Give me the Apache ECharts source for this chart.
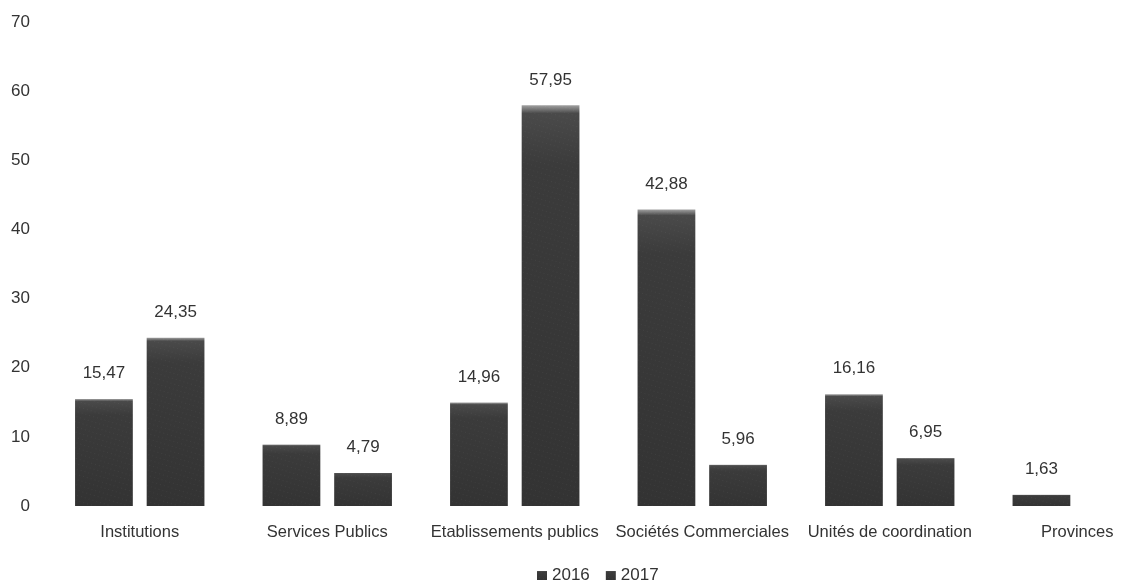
<!DOCTYPE html>
<html>
<head>
<meta charset="utf-8">
<script src="https://cdn.jsdelivr.net/npm/echarts@6/dist/echarts.min.js"></script>
<style>
    html, body {margin: 0; padding: 0; background: #fff;}
    #chart {width: 1121px; height: 585px;}
</style>
</head>
<body>
<div id="chart"></div>
<script>
var categories = ['Institutions', 'Services Publics', 'Etablissements publics', 'Sociétés Commerciales', 'Unités de coordination', 'Provinces'];
var values2016 = [15.47, 8.89, 14.96, 42.88, 16.16, 1.63];
var values2017 = [24.35, 4.79, 57.95, 5.96, 6.95, '-'];
var yTicks = [0, 10, 20, 30, 40, 50, 60, 70];

var myChart = echarts.init(document.getElementById('chart'));

// barres gris foncé avec un reflet clair en haut
function barColor() {
    return new echarts.graphic.LinearGradient(0, 0, 0, 1, [
        {offset: 0, color: '#a0a0a0'},
        {offset: 0.02, color: '#4a4a4a'},
        {offset: 0.15, color: '#3b3b3b'},
        {offset: 1, color: '#333333'}
    ]);
}

function fmt(p) {
    return p.value.toFixed(2).replace('.', ',');
}

var barDecal = {
    symbol: 'rect',
    symbolSize: 0.6,
    color: 'rgba(255,255,255,0.15)',
    dashArrayX: [1, 3],
    dashArrayY: [1, 4],
    rotation: 0.3
};

var option = {
    backgroundColor: '#ffffff',
    textStyle: {fontFamily: 'Liberation Sans, Arial, sans-serif'},
    grid: {
        left: 46,
        width: 1125,
        top: 22,
        bottom: 79,
        containLabel: false,
        outerBoundsMode: 'none'
    },
    legend: {
        top: 562,
        left: 532,
        icon: 'rect',
        itemWidth: 10,
        itemHeight: 9,
        itemGap: 16,
        textStyle: {fontSize: 17, color: '#333'},
        data: ['2016', '2017']
    },
    xAxis: {
        type: 'category',
        data: categories,
        axisLine: {show: false},
        axisTick: {show: false},
        axisLabel: {fontSize: 16.5, color: '#333', margin: 18, interval: 0}
    },
    yAxis: {
        type: 'value',
        min: yTicks[0],
        max: yTicks[yTicks.length - 1],
        interval: 10,
        splitLine: {show: false},
        axisLine: {show: false},
        axisTick: {show: false},
        axisLabel: {fontSize: 17, color: '#333', margin: 16}
    },
    series: [
        {
            name: '2016',
            type: 'bar',
            data: values2016,
            barGap: '24%',
            barCategoryGap: '31%',
            itemStyle: {color: barColor(), decal: barDecal},
            label: {show: true, position: 'top', distance: 17, fontSize: 17, color: '#333', formatter: fmt}
        },
        {
            name: '2017',
            type: 'bar',
            data: values2017,
            itemStyle: {color: barColor(), decal: barDecal},
            label: {show: true, position: 'top', distance: 17, fontSize: 17, color: '#333', formatter: fmt}
        }
    ],
    aria: {enabled: true, decal: {show: true}}
};

myChart.setOption(option);
</script>
</body>
</html>
